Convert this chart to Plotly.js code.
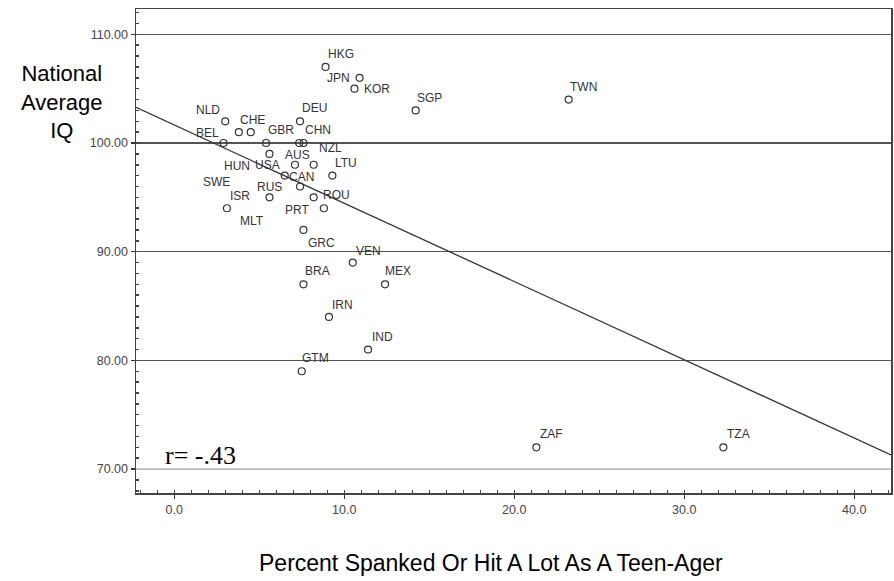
<!DOCTYPE html>
<html>
<head>
<meta charset="utf-8">
<script src="https://cdn.plot.ly/plotly-3.0.1.min.js"></script>
<style>html,body{margin:0;padding:0;background:#fff;}</style>
</head>
<body>
<div id="chart" style="width:894px;height:581px;"></div>
<script>
// ---- data ----
var countries = ["HKG","JPN","KOR","SGP","TWN","NLD","DEU","CHE","SWE","BEL","GBR","HUN","CHN","AUS","USA","NZL","LTU","CAN","MLT","RUS","ROU","ISR","PRT","GRC","VEN","BRA","MEX","IRN","IND","GTM","ZAF","TZA"];
var pctSpanked = [8.9,10.9,10.6,14.2,23.2,3.0,7.4,3.8,4.5,2.9,5.4,7.35,7.6,5.6,7.1,8.2,9.3,6.5,7.4,5.6,8.2,3.1,8.8,7.6,10.5,7.6,12.4,9.1,11.4,7.5,21.3,32.3];
var nationalIQ = [107,106,105,103,104,102,102,101,101,100,100,100,100,99,98,98,97,97,96,95,95,94,94,92,89,87,87,84,81,79,72,72];
var fitX = [-2.25, 42.16];
var fitY = [103.28, 71.3];
var correlationText = "r= -.43";
var xTitle = "Percent Spanked Or Hit A Lot As A Teen-Ager";
var yTitle = "National<br>Average<br>IQ";

// ---- label placement offsets (pixels, layout only) ----
var labelOffset = {
  HKG:[15,13], JPN:[-21,0], KOR:[23,0], SGP:[14,12], TWN:[15,13],
  NLD:[-17,11], DEU:[14,13], CHE:[14,12], SWE:[-34,-50], BEL:[-16,10],
  GBR:[15,13], HUN:[-62,-23], CHN:[15,13], AUS:[28,-1], USA:[-27,0],
  NZL:[17,17], LTU:[14,13], CAN:[17,-1], MLT:[-48,-35], RUS:[0,10],
  ROU:[23,2], ISR:[13,12], PRT:[-27,-2], GRC:[18,-13], VEN:[16,12],
  BRA:[14,13], MEX:[13,13], IRN:[14,12], IND:[14,13], GTM:[14,13],
  ZAF:[15,13], TZA:[15,13]
};

var sans = "Liberation Sans, Arial, sans-serif";
var txtColor = "#333";
var annotations = countries.map(function(c, i){
  var o = labelOffset[c] || [14,12];
  return {
    x: pctSpanked[i], y: nationalIQ[i], xref: "x", yref: "y",
    text: c, showarrow: false, xshift: o[0], yshift: o[1],
    xanchor: "center", yanchor: "middle",
    font: {family: sans, size: 12, color: txtColor}
  };
});
annotations.push({
  xref: "paper", yref: "paper", x: -0.098, y: 0.8085,
  xanchor: "center", yanchor: "middle",
  text: yTitle, showarrow: false, align: "center",
  font: {family: sans, size: 22, color: "#000"}
});
annotations.push({
  xref: "paper", yref: "paper", x: 0.470, y: -0.145,
  xanchor: "center", yanchor: "middle",
  text: xTitle, showarrow: false,
  font: {family: sans, size: 23, color: "#000"}
});
annotations.push({
  xref: "paper", yref: "paper", x: 0.0848, y: 0.077,
  xanchor: "center", yanchor: "middle",
  text: correlationText, showarrow: false,
  font: {family: "Liberation Serif, Times New Roman, serif", size: 26, color: "#000"}
});

var traces = [
  {
    x: fitX, y: fitY, mode: "lines", type: "scatter",
    line: {color: "#333", width: 1.3}, hoverinfo: "skip", showlegend: false
  },
  {
    x: pctSpanked, y: nationalIQ, text: countries, mode: "markers", type: "scatter",
    marker: {symbol: "circle-open", size: 7, color: "#333", line: {width: 1.2, color: "#333"}},
    showlegend: false
  }
];

var tickFont = {family: sans, size: 12.5, color: "#444"};

var layout = {
  width: 894, height: 581,
  margin: {l: 136, r: 3, t: 9, b: 88},
  paper_bgcolor: "#fff", plot_bgcolor: "#fff",
  showlegend: false,
  xaxis: {
    range: [-2.25, 42.16], tick0: 0, dtick: 10, tickformat: ".1f",
    ticks: "outside", ticklen: 4, tickcolor: "#333", tickwidth: 1.5,
    showline: true, linecolor: "#444", linewidth: 1.5, mirror: true,
    showgrid: false, zeroline: false,
    minor: {dtick: 1, ticks: "inside", ticklen: 3, tickcolor: "#444", showgrid: false},
    tickfont: tickFont, automargin: false
  },
  yaxis: {
    range: [67.8, 112.33], tick0: 70, dtick: 10, tickformat: ".2f",
    ticks: "outside", ticklen: 4, tickcolor: "#333", tickwidth: 1.5,
    showline: true, linecolor: "#444", linewidth: 1.5, mirror: true,
    showgrid: true, gridcolor: "#555", gridwidth: 1.5, zeroline: false,
    minor: {dtick: 1, ticks: "inside", ticklen: 3, tickcolor: "#444", showgrid: false},
    tickfont: tickFont, automargin: false
  },
  shapes: [
    {type: "line", xref: "paper", yref: "y", x0: 0, x1: 1, y0: 70, y1: 70, layer: "above",
     line: {color: "#fff", width: 2.5}},
    {type: "line", xref: "paper", yref: "y", x0: 0, x1: 1, y0: 70, y1: 70, layer: "above",
     line: {color: "#8a8a8a", width: 1}}
  ],
  annotations: annotations
};

Plotly.newPlot("chart", traces, layout, {displayModeBar: false, staticPlot: true});
</script>
</body>
</html>
